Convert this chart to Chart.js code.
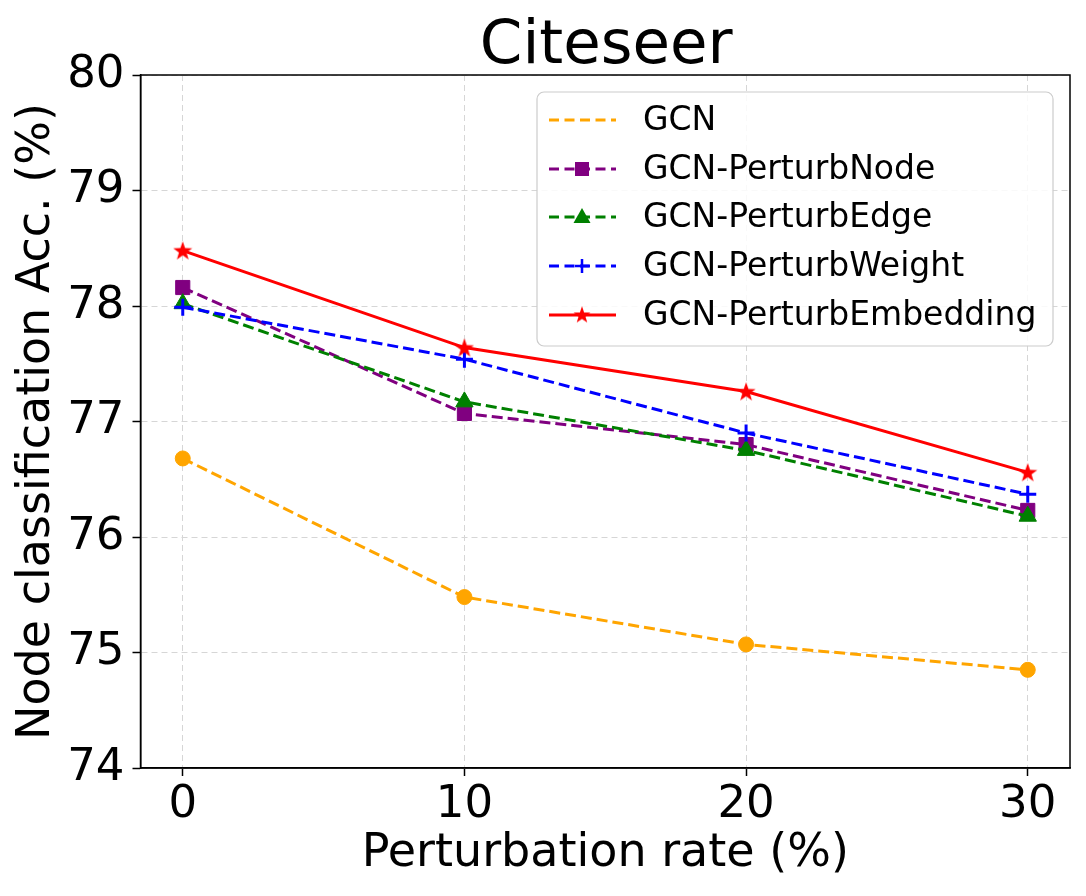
<!DOCTYPE html>
<html>
<head>
<meta charset="utf-8">
<script src="https://cdn.jsdelivr.net/npm/chart.js@4.4.1/dist/chart.umd.min.js"></script>
<style>
  html, body { margin: 0; padding: 0; background: #fff; }
  #wrap { width: 1086px; height: 896px; }
</style>
</head>
<body>
<div id="wrap"><canvas id="citeseerChart" width="1086" height="896"></canvas></div>
<script>
// Citeseer – node classification accuracy vs perturbation rate

const rates = [0, 10, 20, 30];
const xTicks = [0, 10, 20, 30];
const yTicks = [74, 75, 76, 77, 78, 79, 80];

const seriesNames = ['GCN', 'GCN-PerturbNode', 'GCN-PerturbEdge', 'GCN-PerturbWeight', 'GCN-PerturbEmbedding'];
const gcnAcc = [76.68, 75.48, 75.07, 74.85];
const nodeAcc = [78.16, 77.07, 76.80, 76.23];
const edgeAcc = [78.02, 77.17, 76.75, 76.18];
const weightAcc = [77.99, 77.54, 76.90, 76.37];
const embeddingAcc = [78.48, 77.64, 77.26, 76.56];

const FONT = "'DejaVu Sans', sans-serif";

// filled star like matplotlib '*'
function makeStar(size, color) {
  const c = document.createElement('canvas');
  c.width = size; c.height = size;
  const g = c.getContext('2d');
  const cx = size / 2, cy = size / 2 + 0.8;
  const outer = size / 2, inner = outer * 0.4;
  g.beginPath();
  for (let i = 0; i < 10; i++) {
    const r = i % 2 === 0 ? outer : inner;
    const a = -Math.PI / 2 + i * Math.PI / 5;
    const px = cx + r * Math.cos(a), py = cy + r * Math.sin(a);
    if (i === 0) g.moveTo(px, py); else g.lineTo(px, py);
  }
  g.closePath();
  g.fillStyle = color;
  g.fill();
  return c;
}
const starPlot = makeStar(20, '#ff0000');
const starLegend = makeStar(18, '#ff0000');

function toPoints(vals) {
  return rates.map((r, i) => ({ x: r, y: vals[i] }));
}

const DASH = [11, 5];

const datasets = [
  { label: seriesNames[0], data: toPoints(gcnAcc), borderColor: '#ffa500', backgroundColor: '#ffa500',
    borderDash: DASH, pointStyle: 'circle', pointRadius: 7.5, order: 5, legendMarker: null },
  { label: seriesNames[1], data: toPoints(nodeAcc), borderColor: '#800080', backgroundColor: '#800080',
    borderDash: DASH, pointStyle: 'rect', pointRadius: 10, order: 4, legendMarker: 'rect' },
  { label: seriesNames[2], data: toPoints(edgeAcc), borderColor: '#008000', backgroundColor: '#008000',
    borderDash: DASH, pointStyle: 'triangle', pointRadius: 10, order: 3, legendMarker: 'triangle' },
  { label: seriesNames[3], data: toPoints(weightAcc), borderColor: '#0000ff', backgroundColor: '#0000ff',
    borderDash: DASH, pointStyle: 'cross', pointRadius: 8.5, order: 2, legendMarker: 'cross' },
  { label: seriesNames[4], data: toPoints(embeddingAcc), borderColor: '#ff0000', backgroundColor: '#ff0000',
    borderDash: [], pointStyle: starPlot, pointRadius: 10, order: 1, legendMarker: 'star' }
];
datasets.forEach(d => {
  d.borderWidth = 3;
  d.pointBorderColor = d.borderColor;
  d.pointBackgroundColor = d.borderColor;
  d.pointBorderWidth = d.pointStyle === 'cross' ? 3 : 1;
  d.tension = 0;
  d.fill = false;
});

// title, frame and legend drawn on top
const decorPlugin = {
  id: 'decor',
  afterDraw(chart) {
    const ctx = chart.ctx;
    const a = chart.chartArea;
    ctx.save();
    // frame
    ctx.strokeStyle = '#000';
    ctx.lineWidth = 1.5;
    ctx.setLineDash([]);
    ctx.strokeRect(a.left, a.top, a.right - a.left, a.bottom - a.top);

    // title
    ctx.fillStyle = '#000';
    ctx.font = '61px ' + FONT;
    ctx.textAlign = 'center';
    ctx.textBaseline = 'alphabetic';
    ctx.fillText('Citeseer', (a.left + a.right) / 2 + 1, 63);

    // legend box
    const bx = 537, by = 92, bw = 516, bh = 254;
    ctx.beginPath();
    ctx.roundRect(bx, by, bw, bh, 7);
    ctx.fillStyle = 'rgba(255,255,255,0.85)';
    ctx.fill();
    ctx.strokeStyle = '#cccccc';
    ctx.lineWidth = 1.2;
    ctx.stroke();

    const rowY = [120, 169, 217, 266, 315];
    chart.data.datasets.forEach((d, i) => {
      const y = rowY[i];
      ctx.strokeStyle = d.borderColor;
      ctx.lineWidth = 3;
      ctx.setLineDash(d.borderDash.length ? [10, 5.5] : []);
      ctx.beginPath();
      ctx.moveTo(549, y);
      ctx.lineTo(616, y);
      ctx.stroke();
      ctx.setLineDash([]);
      const mx = 582;
      ctx.fillStyle = d.borderColor;
      if (d.legendMarker === 'rect') {
        ctx.fillRect(mx - 7, y - 7, 14, 14);
      } else if (d.legendMarker === 'triangle') {
        ctx.beginPath();
        ctx.moveTo(mx, y - 9);
        ctx.lineTo(mx + 8.5, y + 6);
        ctx.lineTo(mx - 8.5, y + 6);
        ctx.closePath();
        ctx.fill();
      } else if (d.legendMarker === 'cross') {
        ctx.lineWidth = 2.5;
        ctx.beginPath();
        ctx.moveTo(mx - 7, y); ctx.lineTo(mx + 7, y);
        ctx.moveTo(mx, y - 7); ctx.lineTo(mx, y + 7);
        ctx.stroke();
      } else if (d.legendMarker === 'star') {
        ctx.drawImage(starLegend, mx - 9, y - 9.5);
      }
      ctx.fillStyle = '#000';
      ctx.font = '33px ' + FONT;
      ctx.textAlign = 'left';
      ctx.textBaseline = 'middle';
      ctx.fillText(d.label, 643, y + 1);
    });
    ctx.restore();
  }
};

const gridStyle = {
  color: '#d6d6d6',
  lineWidth: 1,
  tickColor: '#000',
  tickLength: 8,
  tickWidth: 1.5,
  tickBorderDash: []
};

new Chart(document.getElementById('citeseerChart').getContext('2d'), {
  type: 'line',
  data: { datasets: datasets },
  options: {
    responsive: false,
    animation: false,
    layout: { padding: { top: 75, right: 16, bottom: 0, left: 0 } },
    plugins: {
      legend: { display: false },
      tooltip: { enabled: false },
      title: { display: false }
    },
    scales: {
      x: {
        type: 'linear',
        min: -1.5,
        max: 31.5,
        afterBuildTicks: s => { s.ticks = xTicks.map(v => ({ value: v })); },
        afterFit: s => { s.height = 128; },
        grid: gridStyle,
        border: { display: true, color: '#000', width: 1.5, dash: [6, 4] },
        ticks: { color: '#000', font: { family: FONT, size: 45 }, padding: 2, maxRotation: 0 },
        title: { display: true, text: 'Perturbation rate (%)', color: '#000',
                 font: { family: FONT, size: 46 }, padding: { top: 0, bottom: 14 } }
      },
      y: {
        type: 'linear',
        min: 74,
        max: 80,
        afterBuildTicks: s => { s.ticks = yTicks.map(v => ({ value: v })); },
        afterFit: s => { s.width = 140.5; },
        grid: gridStyle,
        border: { display: true, color: '#000', width: 1.5, dash: [6, 4] },
        ticks: { color: '#000', font: { family: FONT, size: 45 }, padding: 8 },
        title: { display: true, text: 'Node classification Acc. (%)', color: '#000',
                 font: { family: FONT, size: 46 }, padding: { top: 9, bottom: 0 } }
      }
    }
  },
  plugins: [decorPlugin]
});
</script>
</body>
</html>
